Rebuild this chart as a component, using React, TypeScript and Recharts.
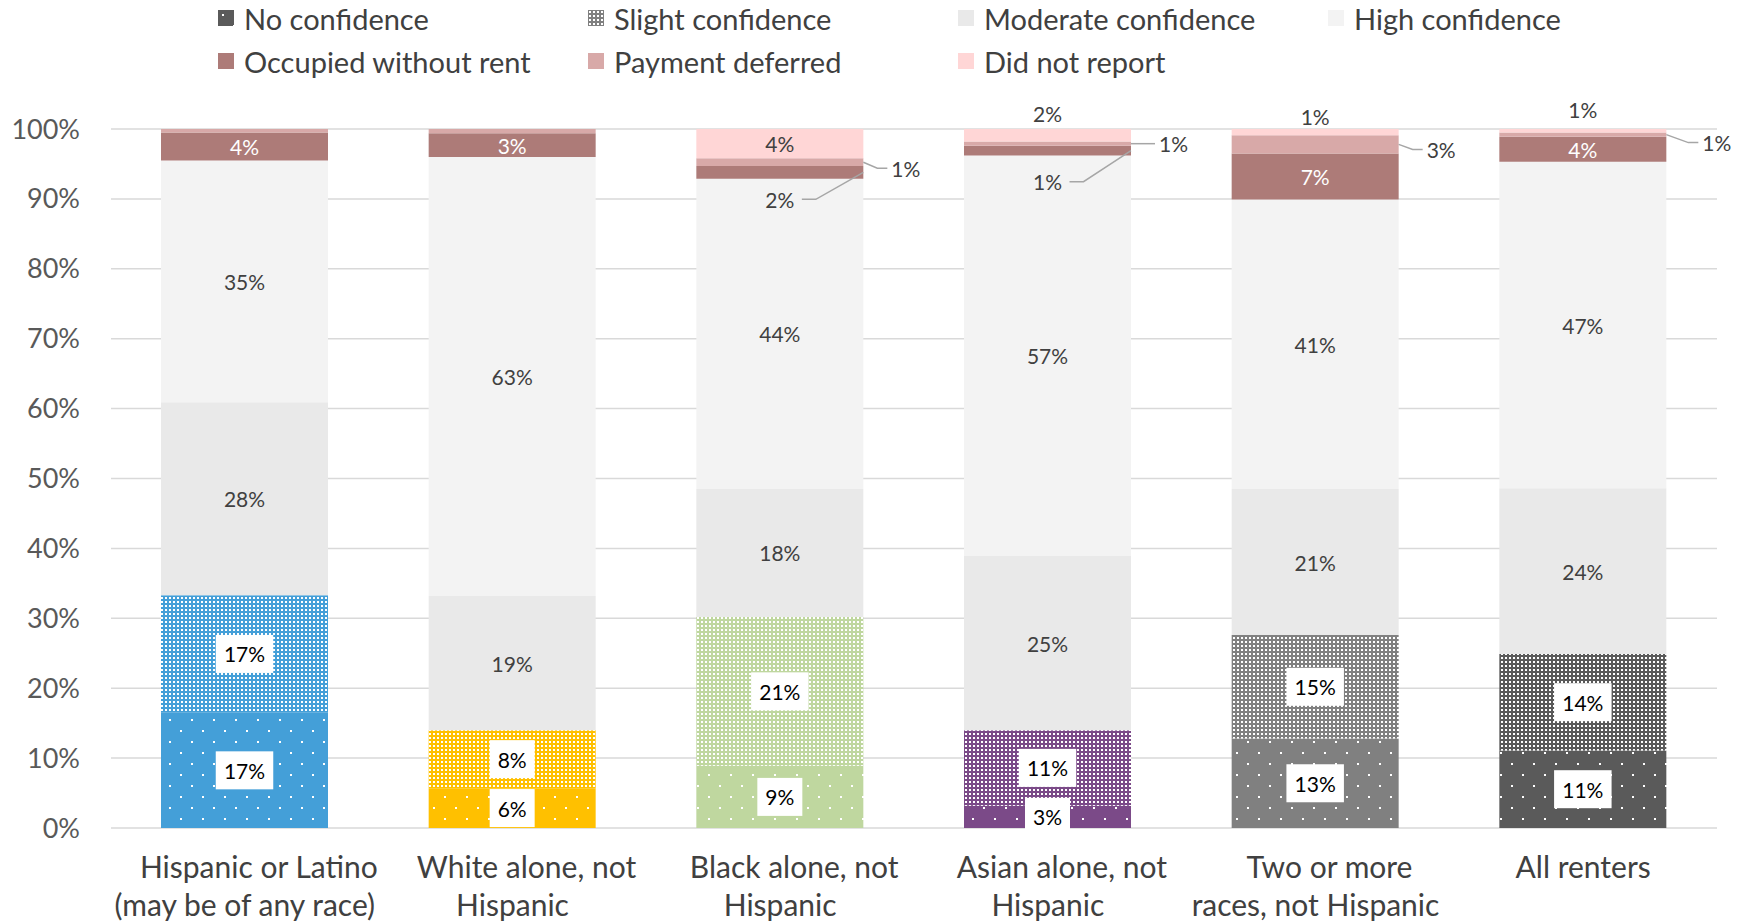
import { Bar, BarChart, CartesianGrid, Cell, LabelList, XAxis, YAxis } from "recharts";

// renter groups on the x axis, "\n" splits the two label lines
const categories = [
  "Hispanic or Latino\n(may be of any race)",
  "White alone, not\nHispanic",
  "Black alone, not\nHispanic",
  "Asian alone, not\nHispanic",
  "Two or more\nraces, not Hispanic",
  "All renters",
];

// shares in percent, bottom to top of each bar
const noConfidence = [16.5, 5.7, 8.9, 3.2, 12.8, 11.1];
const slightConfidence = [16.8, 8.3, 21.3, 10.8, 14.8, 13.8];
const moderateConfidence = [27.6, 19.2, 18.3, 24.9, 20.9, 23.7];
const highConfidence = [34.6, 62.8, 44.4, 57.3, 41.4, 46.7];
const occupiedWithoutRent = [4.0, 3.4, 1.8, 1.4, 6.6, 3.6];
const paymentDeferred = [0.5, 0.6, 1.1, 0.6, 2.6, 0.6];
const didNotReport = [0, 0, 4.2, 1.8, 0.9, 0.5];

const yTicks = [0, 10, 20, 30, 40, 50, 60, 70, 80, 90, 100];

const groupColors = ["#449FD8", "#FFC000", "#BFD79F", "#7B4A88", "#808080", "#5A5A5A"];

const FONT = "Lato, 'Open Sans', sans-serif";
const LEADER = "#A6A6A6";

const data = categories.map((name, i) => ({
  name,
  no: noConfidence[i],
  slight: slightConfidence[i],
  moderate: moderateConfidence[i],
  high: highConfidence[i],
  occupied: occupiedWithoutRent[i],
  payment: paymentDeferred[i],
  dnr: didNotReport[i],
}));

const legendItems = [
  { name: "No confidence", fill: "url(#no-5)" },
  { name: "Slight confidence", fill: "url(#slight-4)" },
  { name: "Moderate confidence", fill: "#E9E9E9" },
  { name: "High confidence", fill: "#F3F3F3" },
  { name: "Occupied without rent", fill: "#AD7B78" },
  { name: "Payment deferred", fill: "#D8A9A8" },
  { name: "Did not report", fill: "#FFD6D6" },
];

// small-segment label placement (offsets only)
const rightLeader: Record<number, { dx: number; dy: number }> = {
  2: { dx: 0, dy: 6 },
  3: { dx: 0, dy: 0 },
  4: { dx: 0, dy: 5 },
  5: { dx: 8, dy: 8 },
};
const aboveDy: Record<number, number> = { 3: -16, 4: -13, 5: -20 };

function Patterns() {
  return (
    <svg width={0} height={0} style={{ position: "absolute" }}>
      <defs>
        {groupColors.map((c, i) => (
          <pattern key={"no" + i} id={`no-${i}`} patternUnits="userSpaceOnUse" width={22} height={22}>
            <rect width={22} height={22} fill={c} />
            <rect x={4} y={4} width={2} height={2} fill="#fff" />
            <rect x={15} y={15} width={2} height={2} fill="#fff" />
          </pattern>
        ))}
        {groupColors.map((c, i) => (
          <pattern key={"sl" + i} id={`slight-${i}`} patternUnits="userSpaceOnUse" width={4} height={4}>
            <rect width={4} height={4} fill={c} />
            <rect x={1} y={1} width={2} height={2} fill="#fff" />
          </pattern>
        ))}
      </defs>
    </svg>
  );
}

const pct = (v: number) => `${Math.round(v)}%`;

// zero-height segments are skipped by LabelList, so carry the category index as the label value
const categoryIndex = (entry: any) => categories.indexOf(entry?.payload?.name);

function segmentLabel(kind: keyof (typeof data)[number]) {
  return (props: any) => {
    const i = Number(props.value);
    if (i < 0 || Number.isNaN(i)) return null;
    const value = Number(data[i][kind]);
    const x = Number(props.x);
    const y = Number(props.y);
    const w = Number(props.width);
    const h = Number(props.height);
    const cx = x + w / 2;
    const cy = y + h / 2;
    const xr = x + w;
    const text = pct(value);
    const base = { fontFamily: FONT, fontSize: 21, textAnchor: "middle" as const, dominantBaseline: "central" as const };

    if (kind === "no" || kind === "slight") {
      const bw = 20 + 12.5 * text.length;
      return (
        <g>
          <rect x={cx - bw / 2} y={cy - 19} width={bw} height={38} fill="#fff" />
          <text x={cx} y={cy} fill="#000" {...base}>{text}</text>
        </g>
      );
    }
    if (kind === "moderate" || kind === "high") {
      return <text x={cx} y={cy} fill="#404040" {...base}>{text}</text>;
    }
    if (kind === "occupied") {
      if (i === 2 || i === 3) {
        const ly = cy + (i === 2 ? 27 : 31);
        return (
          <g>
            <polyline points={`${cx + 22},${ly} ${cx + 36},${ly} ${xr},${cy}`} fill="none" stroke={LEADER} strokeWidth={1.5} />
            <text x={cx} y={ly} fill="#404040" {...base}>{text}</text>
          </g>
        );
      }
      return <text x={cx} y={cy} fill="#fff" {...base}>{text}</text>;
    }
    if (kind === "payment") {
      const off = rightLeader[i];
      if (!off) return null;
      const ly = cy + off.dy;
      return (
        <g>
          <polyline points={`${xr},${cy} ${xr + 14 + off.dx},${ly} ${xr + 24 + off.dx},${ly}`} fill="none" stroke={LEADER} strokeWidth={1.5} />
          <text x={xr + 28 + off.dx} y={ly} fill="#404040" {...base} textAnchor="start">{text}</text>
        </g>
      );
    }
    if (kind === "dnr") {
      if (i === 2) return <text x={cx} y={cy} fill="#404040" {...base}>{text}</text>;
      if (!(i in aboveDy)) return null;
      return <text x={cx} y={y + aboveDy[i]} fill="#404040" {...base}>{text}</text>;
    }
    return null;
  };
}

function CategoryTick(props: any) {
  const lines = String(props.payload.value).split("\n");
  return (
    <text x={props.x} y={props.y} textAnchor="middle" fill="#404040" fontFamily={FONT} fontSize={30}>
      {lines.map((l, k) => (
        <tspan key={k} x={props.x + (lines.length > 1 && k === 0 ? 14 : 0)} dy={k === 0 ? 50 : 38}>
          {l}
        </tspan>
      ))}
    </text>
  );
}

function LegendBlock() {
  return (
    <div style={{ position: "absolute", left: 0, top: 0, width: 1748, fontFamily: FONT, fontSize: 29, color: "#404040" }}>
      {legendItems.map((it, k) => {
        const col = k < 4 ? k : k - 4;
        const row = k < 4 ? 0 : 1;
        return (
          <div
            key={it.name}
            style={{ position: "absolute", left: 218 + col * 370, top: row === 0 ? 0 : 43, display: "flex", alignItems: "center", whiteSpace: "nowrap", height: 36 }}
          >
            <svg width={16} height={16} style={{ marginRight: 10 }}>
              <rect width={16} height={16} fill={it.fill} />
            </svg>
            <span>{it.name}</span>
          </div>
        );
      })}
    </div>
  );
}

export default function App() {
  return (
    <div style={{ position: "absolute", left: 0, top: 0, width: 1748, height: 924, background: "#fff" }}>
      <Patterns />
      <BarChart width={1748} height={924} data={data} margin={{ top: 129, right: 31, left: 11, bottom: 6 }} barSize={167}>
        <CartesianGrid vertical={false} stroke="#D9D9D9" strokeWidth={1.5} />
        <XAxis dataKey="name" tick={<CategoryTick />} tickLine={false} axisLine={false} tickSize={0} tickMargin={0} height={90} interval={0} />
        <YAxis
          type="number"
          domain={[0, 100]}
          ticks={yTicks}
          tickFormatter={(v: number) => `${v}%`}
          tickLine={false}
          axisLine={false}
          tickSize={0}
          tickMargin={31}
          width={100}
          tick={{ fill: "#595959", fontSize: 27, fontFamily: FONT }}
        />
        <Bar dataKey="no" stackId="a" isAnimationActive={false}>
          {data.map((_, i) => (
            <Cell key={i} fill={`url(#no-${i})`} />
          ))}
          <LabelList valueAccessor={categoryIndex} content={segmentLabel("no")} />
        </Bar>
        <Bar dataKey="slight" stackId="a" isAnimationActive={false}>
          {data.map((_, i) => (
            <Cell key={i} fill={`url(#slight-${i})`} />
          ))}
          <LabelList valueAccessor={categoryIndex} content={segmentLabel("slight")} />
        </Bar>
        <Bar dataKey="moderate" stackId="a" fill="#E9E9E9" isAnimationActive={false}>
          <LabelList valueAccessor={categoryIndex} content={segmentLabel("moderate")} />
        </Bar>
        <Bar dataKey="high" stackId="a" fill="#F3F3F3" isAnimationActive={false}>
          <LabelList valueAccessor={categoryIndex} content={segmentLabel("high")} />
        </Bar>
        <Bar dataKey="occupied" stackId="a" fill="#AD7B78" isAnimationActive={false}>
          <LabelList valueAccessor={categoryIndex} content={segmentLabel("occupied")} />
        </Bar>
        <Bar dataKey="payment" stackId="a" fill="#D8A9A8" isAnimationActive={false}>
          <LabelList valueAccessor={categoryIndex} content={segmentLabel("payment")} />
        </Bar>
        <Bar dataKey="dnr" stackId="a" fill="#FFD6D6" isAnimationActive={false}>
          <LabelList valueAccessor={categoryIndex} content={segmentLabel("dnr")} />
        </Bar>
      </BarChart>
      <LegendBlock />
    </div>
  );
}
